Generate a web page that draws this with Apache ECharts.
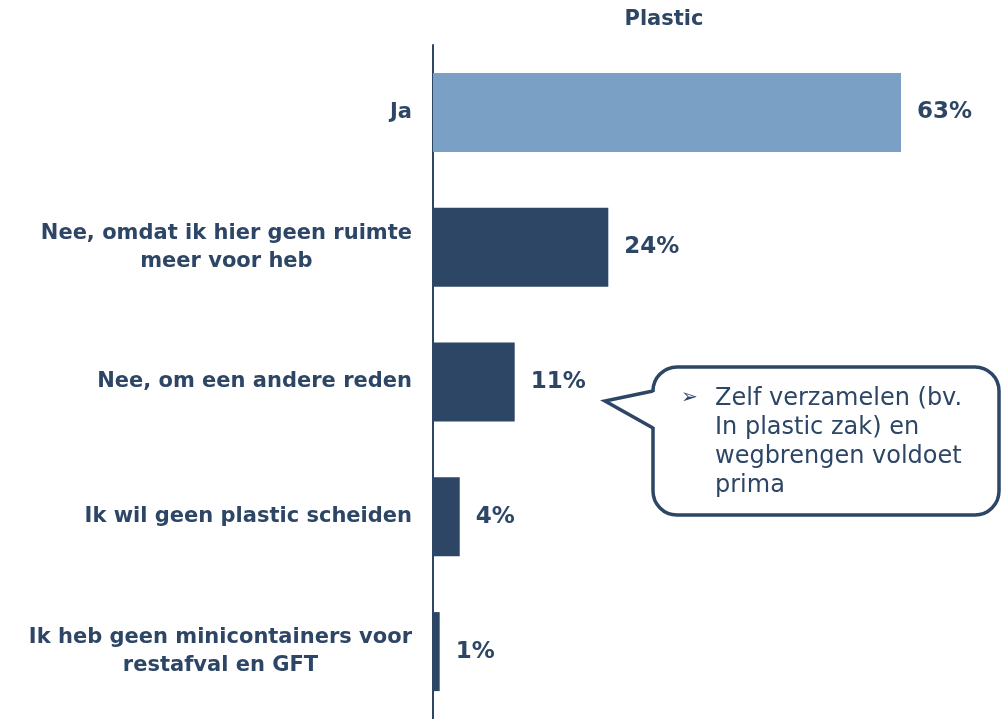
<!DOCTYPE html>
<html>
<head>
<meta charset="utf-8">
<script src="https://cdn.jsdelivr.net/npm/echarts@6/dist/echarts.min.js"></script>
<style>html,body{margin:0;padding:0;background:#fff}#c{width:1005px;height:719px}</style>
</head>
<body>
<div id="c"></div>
<script>
const categories = [
  "Ja",
  "Nee, omdat ik hier geen ruimte\nmeer voor heb",
  "Nee, om een andere reden",
  "Ik wil geen plastic scheiden",
  "Ik heb geen minicontainers voor\nrestafval en GFT"
];
const values = [63, 23.6, 11, 3.6, 0.9];
const barColors = ["#7aa0c6", "#2d4665", "#2d4665", "#2d4665", "#2d4665"];
const titleText = "Plastic";
const calloutLines = ["Zelf verzamelen (bv.", "In plastic zak) en", "wegbrengen voldoet", "prima"];

const navy = "#2d4665";
const font = "DejaVu Sans, Verdana, sans-serif";
const chart = echarts.init(document.getElementById('c'));
chart.setOption({
  animation: false,
  title: {
    text: titleText, left: 659, top: 4, textAlign: 'center',
    textStyle: { color: navy, fontFamily: font, fontWeight: 'bold', fontSize: 21 }
  },
  grid: { left: 433, right: 52, top: 45, bottom: 0, containLabel: false },
  xAxis: { type: 'value', min: 0, max: 70, show: false },
  yAxis: {
    type: 'category', inverse: true, data: categories,
    axisLine: { show: true, lineStyle: { color: navy, width: 2 } },
    axisTick: { show: false },
    axisLabel: {
      margin: 21, align: 'right',
      formatter: v => '{c|' + v + '}',
      rich: { c: { align: 'center', color: navy, fontFamily: font, fontWeight: 'bold', fontSize: 21, lineHeight: 28 } }
    }
  },
  series: [{
    type: 'bar', barWidth: 79,
    data: values.map((v, i) => ({ value: v, itemStyle: { color: barColors[i] } })),
    label: {
      show: true, position: 'right', distance: 16,
      formatter: p => Math.round(p.value) + '%',
      color: navy, fontFamily: font, fontWeight: 'bold', fontSize: 23
    }
  }],
  graphic: [
    {
      type: 'rect', z: 10,
      shape: { x: 653, y: 367, width: 346, height: 148, r: 24 },
      style: { fill: '#fff', stroke: navy, lineWidth: 3.5 }
    },
    {
      type: 'polygon', z: 11,
      shape: { points: [[651, 392], [606, 401], [651, 427], [657, 427], [657, 392]] },
      style: { fill: '#fff' }
    },
    {
      type: 'polyline', z: 12,
      shape: { points: [[653, 391], [605, 401], [653, 428]] },
      style: { stroke: navy, lineWidth: 3.5, lineJoin: 'miter', fill: null }
    },
    {
      type: 'text', z: 13, left: 681, top: 388,
      style: { text: '➢', fill: navy, font: '20px ' + font }
    },
    {
      type: 'text', z: 13, left: 715, top: 384,
      style: { text: calloutLines.join('\n'), fill: navy, font: '24px ' + font, lineHeight: 29 }
    }
  ]
});
</script>
</body>
</html>
